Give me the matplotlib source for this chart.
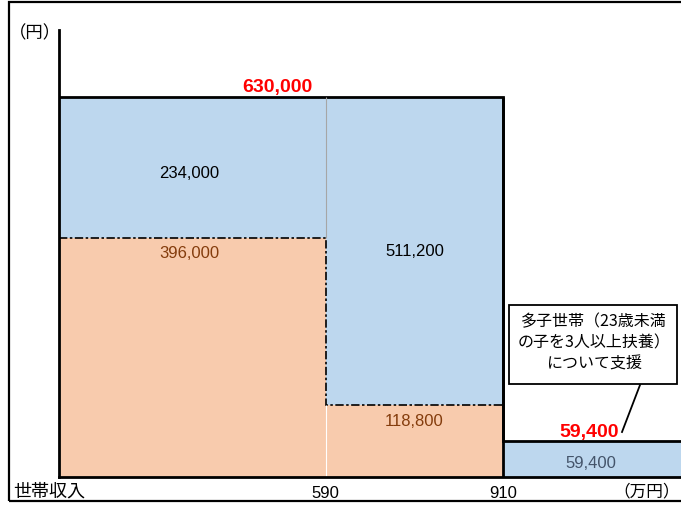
import numpy as np
import matplotlib
matplotlib.use("Agg")
import matplotlib.pyplot as plt
from matplotlib.patches import Rectangle
from matplotlib.lines import Line2D

# Income thresholds (万円) marking the bracket boundaries
income_ticks = ["590", "910"]
# Existing support per bracket (円) and the added amount stacked on top
existing = [396000, 118800, 0]
added = [234000, 511200, 59400]
callout_text = "多子世帯（23歳未満\nの子を3人以上扶養）\nについて支援"

BLUE = "#BDD7EE"
ORANGE = "#F8CBAD"
BROWN = "#843C0C"
SLATE = "#44546A"
RED = "#FF0000"

plt.rcParams['font.family'] = ['Liberation Sans', 'Noto Sans CJK JP']

W, H = 681, 505
fig = plt.figure(figsize=(W / 100, H / 100), dpi=100)
ax = fig.add_axes([59 / W, 28 / H, (W - 59) / W, 447 / H])

# schematic bracket widths along the income axis
edges = np.array([0, 1.5, 2.5, 3.5])
lefts = edges[:-1]
widths = np.diff(edges)
existing = np.array(existing)
added = np.array(added)
totals = existing + added

ax.bar(lefts, existing, width=widths, align='edge', color=ORANGE, lw=0)
ax.bar(lefts, added, bottom=existing, width=widths, align='edge', color=BLUE, lw=0)

# thin separators between the first two brackets
ax.vlines(edges[1], existing[0], totals[0], color="#A6A6A6", lw=0.8)
ax.vlines(edges[1], 0, existing[1], color="white", lw=0.8)

# dash-dot boundary between existing and added amounts
ax.stairs(existing[:2], edges[:3], baseline=None, color="black",
          lw=1.2, ls=(0, (5, 1.5, 1.5, 1.5)))

# solid outline of the totals
ax.stairs(totals, edges, baseline=None, color="black", lw=2)
ax.vlines(edges[2], 0, totals[1], color="black", lw=2)

ax.set_xlim(edges[0], edges[-1])
ax.set_ylim(0, 741000)
for s in ["top", "right"]:
    ax.spines[s].set_visible(False)
for s in ["left", "bottom"]:
    ax.spines[s].set_linewidth(2)
ax.set_yticks([])
ax.set_xticks(edges[1:3])
ax.set_xticklabels(income_ticks, fontsize=12)
ax.tick_params(axis='x', length=0, pad=6.5)


def fmt(v):
    return f"{v:,}"


centers = lefts + widths / 2
# combined total above the first two brackets
ax.annotate(fmt(totals[0]), ((edges[0] + edges[2]) / 2, totals[0]),
            xytext=(-3, 0.5), textcoords="offset points", ha="center", va="bottom",
            fontsize=14, fontweight="bold", color=RED)
# added amounts (blue)
ax.annotate(fmt(added[0]), (centers[0], existing[0] + added[0] / 2), xytext=(-2, -4),
            textcoords="offset points", ha="center", va="center",
            fontsize=12, color="black")
ax.annotate(fmt(added[1]), (centers[1], existing[1] + added[1] / 2), xytext=(0, 0),
            textcoords="offset points", ha="center", va="center",
            fontsize=12, color="black")
# existing amounts (orange), placed just under their top edge
for i in range(2):
    ax.annotate(fmt(existing[i]), (centers[i], existing[i]), xytext=(-2 if i == 0 else 0, -6),
                textcoords="offset points", ha="center", va="top",
                fontsize=12, color=BROWN)
# third bracket
ax.annotate(fmt(added[2]), (centers[2], added[2] / 2), xytext=(-1, -3),
            textcoords="offset points", ha="center", va="center",
            fontsize=12, color=SLATE)
ax.annotate(fmt(added[2]), (centers[2], totals[2]), xytext=(-2, 0),
            textcoords="offset points", ha="center", va="bottom",
            fontsize=14, fontweight="bold", color=RED)


def fx(px):
    return px / W


def fy(py):
    return 1 - py / H


# outer frame
fig.add_artist(Rectangle((fx(9), fy(501)), 1.0, (501 - 2) / H, fill=False,
                         ec="black", lw=1.6, transform=fig.transFigure, clip_on=False))

fig.text(fx(35), fy(33), "（円）", ha="center", va="center", fontsize=12.5,
         family=['Noto Sans CJK JP'])
fig.text(fx(13), fy(492), "世帯収入", ha="left", va="center", fontsize=13,
         family=['Noto Sans CJK JP'])
fig.text(fx(680), fy(492), "（万円）", ha="right", va="center", fontsize=12,
         family=['Noto Sans CJK JP'])

# callout box and leader line
fig.add_artist(Rectangle((fx(509), fy(384)), (677 - 509) / W, (384 - 305) / H,
                         fill=True, fc="white", ec="black", lw=1.3,
                         transform=fig.transFigure))
fig.text(fx(594), fy(343), callout_text, ha="center", va="center", fontsize=11.5,
         linespacing=1.32, family=['Noto Sans CJK JP'])
fig.add_artist(Line2D([fx(622), fx(640)], [fy(432), fy(385)], color="black",
                      lw=1.3, transform=fig.transFigure))

fig.savefig("out.png", dpi=100)
